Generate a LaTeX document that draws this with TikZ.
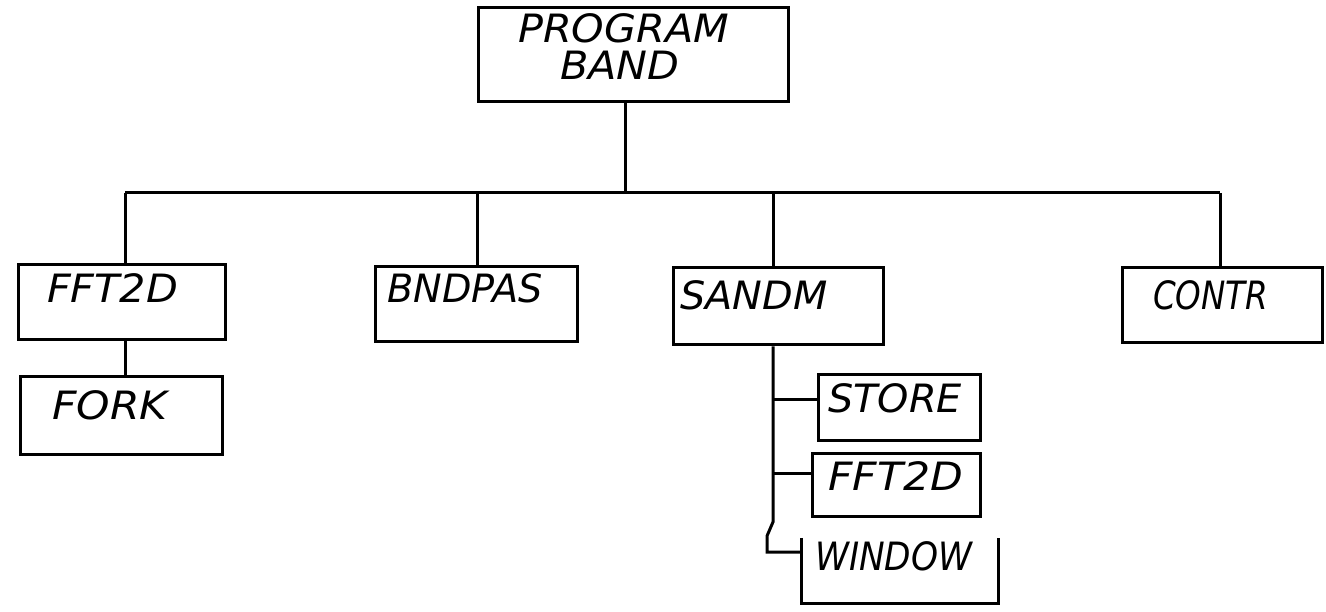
\documentclass[tikz,border=0pt]{standalone}
\usepackage{fontspec}
\newfontfamily\hand{DejaVu Sans}
\usetikzlibrary{calc}
\newcommand\hs[2]{\scalebox{#1}[1]{#2}}
\begin{document}
\begin{tikzpicture}[x=1pt,y=-1pt,
  box/.style={draw,line width=3pt,inner sep=0pt},
  openbox/.style={inner sep=0pt},
  lbl/.style={anchor=base west,inner sep=0pt,font=\hand\itshape\fontsize{39pt}{42pt}\selectfont},
  wire/.style={line width=3pt}]
\useasboundingbox (0,0) rectangle (1326,612);

% boxes
\node[box,minimum width=310pt,minimum height=94pt] (top) at (633,55) {};
\node[box,minimum width=207pt,minimum height=75pt] (fft1) at (121.5,302.5) {};
\node[box,minimum width=202pt,minimum height=77pt] (fork) at (121,415.5) {};
\node[box,minimum width=202pt,minimum height=75pt] (bnd) at (476,304.5) {};
\node[box,minimum width=210pt,minimum height=77pt] (sandm) at (778,306.5) {};
\node[box,minimum width=200pt,minimum height=75pt] (contr) at (1222,305.5) {};
\node[box,minimum width=162pt,minimum height=66pt] (store) at (899,407.5) {};
\node[box,minimum width=168pt,minimum height=63pt] (fft2) at (896,484.5) {};
\node[openbox,minimum width=196pt,minimum height=65pt] (window) at (900,570.5) {};
\draw[wire] (window.north west) -- (window.south west) -- (window.south east) -- (window.north east);

% labels
\node[lbl] (topA) at (518,43) {\hs{1.06}{PROGRAM}};
\node[lbl] (topB) at (560,80) {\hs{1.06}{BAND}};
\node[lbl] (fft1T) at (47,303) {\hs{1.06}{FFT2D}};
\node[lbl] (forkT) at (52,420) {\hs{1.09}{FORK}};
\node[lbl] (bndT) at (387,303) {\hs{0.98}{BNDPAS}};
\node[lbl] (sandmT) at (680,310) {\hs{1.02}{SANDM}};
\node[lbl] (contrT) at (1153,310) {\hs{0.835}{CONTR}};
\node[lbl] (storeT) at (828,413) {\hs{1.02}{STORE}};
\node[lbl] (fft2T) at (828,490) {\hs{1.09}{FFT2D}};
\node[lbl] (windowT) at (815,570) {\hs{0.88}{WINDOW}};

% bus
\coordinate (b0) at (625,193);
\coordinate (b1) at (125,193);
\coordinate (b2) at (477,193);
\coordinate (b3) at (773,193);
\coordinate (b4) at (1220,193);
\draw[wire] (top.south -| b0) -- (b0);
\draw[wire] (b1) -- (b4);
\draw[wire] (b1) -- (b1 |- fft1.north);
\draw[wire] (b2) -- (b2 |- bnd.north);
\draw[wire] (b3) -- (b3 |- sandm.north);
\draw[wire] (b4) -- (b4 |- contr.north);
\draw[wire] (fft1.south -| b1) -- (fork.north -| b1);

% SANDM subtree
\coordinate (s1) at (773,400);
\coordinate (s2) at (773,473);
\coordinate (j1) at (773,522);
\coordinate (j2) at (767,536);
\coordinate (s3) at (767,552);
\draw[wire] (sandm.south -| b3) -- (j1) -- (j2) -- (s3) -- (s3 -| window.west);
\draw[wire] (s1) -- (s1 -| store.west);
\draw[wire] (s2) -- (s2 -| fft2.west);
\end{tikzpicture}
\end{document}
